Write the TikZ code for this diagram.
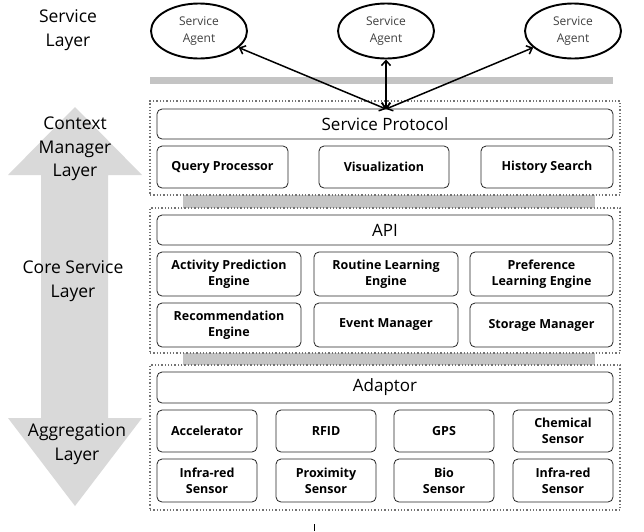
\documentclass[tikz,border=0pt]{standalone}
\usepackage{fontspec}
\setmainfont{Open Sans}
\usetikzlibrary{arrows.meta,shapes.geometric}
\definecolor{bargray}{HTML}{C4C4C4}
\definecolor{arrgray}{HTML}{D9D9D9}
\tikzset{
  box/.style={draw=black!85, rounded corners=5pt, line width=0.8pt, fill=white, align=center, inner sep=0pt,
    font=\bfseries\fontsize{12.5}{16}\selectfont},
  headbox/.style={box, font=\fontsize{17}{19}\selectfont},
  layerbox/.style={draw=black!55, dotted, line width=1.3pt, inner sep=0pt},
  agent/.style={draw=black, ellipse, line width=1.9pt, minimum width=96pt, minimum height=55pt, inner sep=0pt,
    align=center, text=black!75, font=\fontsize{12}{16.5}\selectfont},
  lbl/.style={align=center, font=\fontsize{17.5}{23.5}\selectfont},
  link/.style={line width=1.5pt, {Straight Barb[length=5pt,width=9pt]}-{Straight Barb[length=5pt,width=9pt]}},
}
\newcommand{\bx}[6]{\node[#1, minimum width=#4-#2, minimum height=#5-#3] (#6) at ({(#2+#4)/2},{(#3+#5)/2})}
\begin{document}
\begin{tikzpicture}[x=1pt,y=-1pt]
\useasboundingbox (0,0) rectangle (644,531);
\fill[white] (0,0) rectangle (644,531);
% big double arrow
\fill[arrgray] (75,107) -- (142,175) -- (108,175) -- (108,418) -- (142,418) -- (75,506) -- (8,418) -- (41,418) -- (41,175) -- (8,175) -- cycle;
% layer labels
\node[lbl] (lserv) at (68,30) {Service\\Layer};
\node[lbl] (lctx) at (75,149) {Context\\Manager\\Layer};
\node[lbl] (lcore) at (73,281) {Core Service\\Layer};
\node[lbl] (lagg) at (77,444) {Aggregation\\Layer};
% agents
\node[agent] (a1) at (199,31) {Service\\Agent};
\node[agent] (a2) at (386,31) {Service\\Agent};
\node[agent] (a3) at (573,31) {Service\\Agent};
% gray bars
\fill[bargray] (150,77) rectangle (613,84);
\fill[bargray] (183,195) rectangle (595,208);
\fill[bargray] (183,353) rectangle (595,365);
% layer boxes
\bx{layerbox}{150}{101}{620}{195}{ctx} {};
\bx{layerbox}{150}{208}{620}{353}{core} {};
\bx{layerbox}{150}{365}{620}{510}{agg} {};
% context manager
\bx{headbox}{157}{109}{613}{139}{sp} {Service Protocol};
\bx{box}{157}{146}{288}{188}{qp} {Query Processor};
\bx{box}{319}{146}{449}{188}{vis} {Visualization};
\bx{box}{481}{146}{613}{188}{hs} {History Search};
% core
\bx{headbox}{157}{215}{613}{245}{api} {API};
\bx{box}{157}{252}{301}{296}{ape} {Activity Prediction\\Engine};
\bx{box}{314}{252}{458}{296}{rle} {Routine Learning\\Engine};
\bx{box}{470}{252}{613}{296}{ple} {Preference\\Learning Engine};
\bx{box}{157}{303}{301}{347}{re} {Recommendation\\Engine};
\bx{box}{314}{303}{458}{347}{em} {Event Manager};
\bx{box}{470}{303}{613}{347}{sm} {Storage Manager};
% aggregation
\bx{headbox}{157}{372}{613}{403}{ad} {Adaptor};
\bx{box}{157}{410}{257}{452}{acc} {Accelerator};
\bx{box}{276}{410}{376}{452}{rfid} {RFID};
\bx{box}{394}{410}{494}{452}{gps} {GPS};
\bx{box}{513}{410}{613}{452}{chem} {Chemical\\Sensor};
\bx{box}{157}{459}{257}{502}{ir1} {Infra-red\\Sensor};
\bx{box}{276}{459}{376}{502}{prox} {Proximity\\Sensor};
\bx{box}{394}{459}{494}{502}{bio} {Bio\\Sensor};
\bx{box}{513}{459}{613}{502}{ir2} {Infra-red\\Sensor};
% links
\coordinate (hub) at (386,109);
\draw[link] (hub) -- (a1);
\draw[link] (hub) -- (a2);
\draw[link] (hub) -- (a3);
% stray tick
\coordinate (t1) at (314,524);
\coordinate (t2) at (314,531);
\draw[line width=1pt] (t1) -- (t2);
\end{tikzpicture}
\end{document}
